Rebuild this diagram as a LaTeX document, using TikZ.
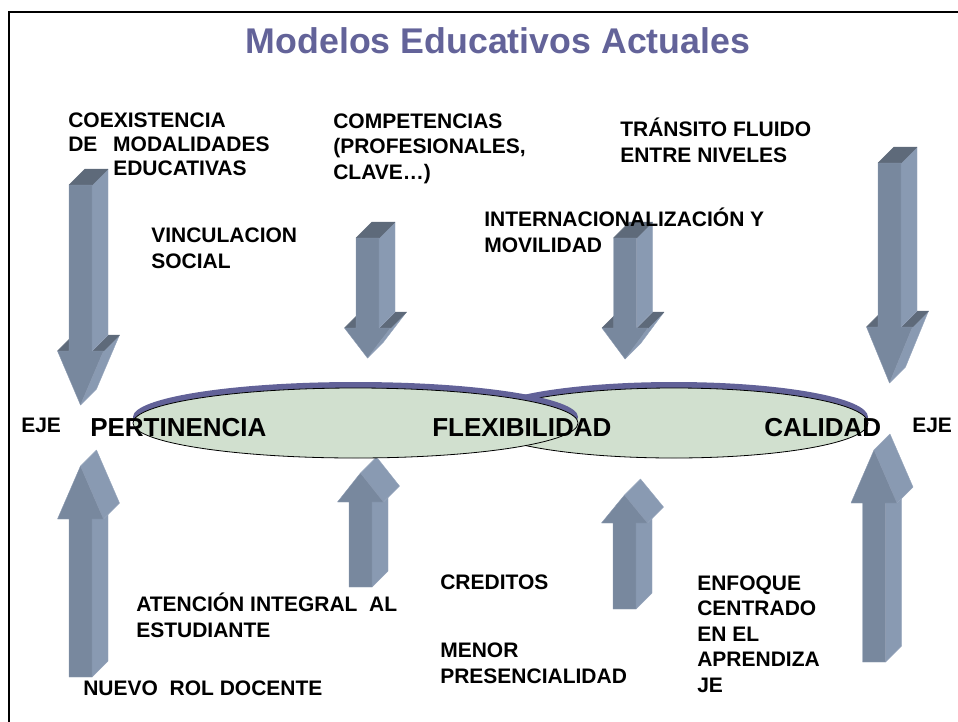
\documentclass[tikz,border=0pt]{standalone}
\usepackage{fontspec}
\setmainfont{Liberation Sans}
\usepackage{tikz}

\begin{document}
\begin{tikzpicture}[x=0.75pt,y=0.75pt,yscale=-1,xscale=1,
  arrfront/.style={fill={rgb, 255:red, 120; green, 136; blue, 158}, draw={rgb, 255:red, 138; green, 153; blue, 176}, line width=0.3pt, line join=round},
  arrside/.style={fill={rgb, 255:red, 137; green, 154; blue, 178}, draw={rgb, 255:red, 150; green, 165; blue, 188}, line width=0.3pt, line join=round},
  arrtop/.style={fill={rgb, 255:red, 94; green, 106; blue, 122}, draw={rgb, 255:red, 94; green, 106; blue, 122}, line width=0.3pt, line join=round},
  elshadow/.style={fill={rgb, 255:red, 98; green, 98; blue, 152}},
  elfill/.style={fill={rgb, 255:red, 209; green, 224; blue, 207}, draw=black, line width=0.6pt},
  lbl/.style={inner sep=0pt, anchor=base west, align=left, font=\bfseries\fontsize{15.75}{19.2}\selectfont},
  biglbl/.style={inner sep=0pt, anchor=base west, font=\bfseries\fontsize{19.5}{23}\selectfont}]
\useasboundingbox (0,0) rectangle (958,722);

%Straight Lines: frame
\draw [line width=1.5pt] (9,722) -- (9,12) -- (958,12) ;

%Shape: Down Arrows
\foreach \cx/\ty/\hy/\py in {80.5/185/351/405, 367.5/238/328/358, 625/238/328/359, 889.5/163/327/383}{
  \draw [arrside] (\cx+23,\hy) -- (\cx+39,\hy-16) -- (\cx+16,\py-16) -- (\cx,\py) -- cycle ;
  \draw [arrtop] (\cx-23,\hy) -- (\cx-11.5,\hy) -- (\cx+4.5,\hy-16) -- (\cx-7,\hy-16) -- cycle ;
  \draw [arrtop] (\cx+11.5,\hy) -- (\cx+23,\hy) -- (\cx+39,\hy-16) -- (\cx+27.5,\hy-16) -- cycle ;
  \draw [arrside] (\cx+11.5,\ty) -- (\cx+27.5,\ty-16) -- (\cx+27.5,\hy-16) -- (\cx+11.5,\hy) -- cycle ;
  \draw [arrtop] (\cx-11.5,\ty) -- (\cx+11.5,\ty) -- (\cx+27.5,\ty-16) -- (\cx+4.5,\ty-16) -- cycle ;
  \draw [arrfront] (\cx-11.5,\ty) -- (\cx+11.5,\ty) -- (\cx+11.5,\hy) -- (\cx+23,\hy) -- (\cx,\py) -- (\cx-23,\hy) -- (\cx-11.5,\hy) -- cycle ;
}

%Shape: Up Arrows
\foreach \cx/\by/\hy/\py in {80.5/677/519/466, 360.5/587/502/473, 624.5/609/523/495, 874/662/503/450}{
  \draw [arrside] (\cx+11.5,\by) -- (\cx+27.5,\by-16) -- (\cx+27.5,\hy-16) -- (\cx+11.5,\hy) -- cycle ;
  \draw [arrside] (\cx,\py) -- (\cx+16,\py-16) -- (\cx+39,\hy-16) -- (\cx+23,\hy) -- cycle ;
  \draw [arrfront] (\cx-11.5,\by) -- (\cx+11.5,\by) -- (\cx+11.5,\hy) -- (\cx+23,\hy) -- (\cx,\py) -- (\cx-23,\hy) -- (\cx-11.5,\hy) -- cycle ;
}

%Shape: Ellipse (right)
\fill [elshadow] (674,417) ellipse [x radius=194, y radius=35] ;
\draw [elfill] (674,423) ellipse [x radius=194, y radius=35] ;
%Shape: Ellipse (left)
\fill [elshadow] (355.5,417) ellipse [x radius=222.5, y radius=35] ;
\draw [elfill] (355.5,423) ellipse [x radius=222.5, y radius=35] ;

% Text Node (base = last line)
\node (title) [inner sep=0pt, anchor=base, text={rgb, 255:red, 99; green, 99; blue, 153}, font=\bfseries\fontsize{26.8}{32}\selectfont] at (498,53) {Modelos Educativos Actuales};
% Text Node
\node (coex) [lbl, font=\bfseries\fontsize{15.75}{18}\selectfont] at (68,175.5) {COEXISTENCIA\\\makebox[33.75pt][l]{DE}MODALIDADES\\\hspace*{33.75pt}EDUCATIVAS};
% Text Node
\node (compet) [lbl] at (333,179.5) {COMPETENCIAS\\(PROFESIONALES,\\CLAVE…)};
% Text Node
\node (transito) [lbl] at (620,162.5) {TRÁNSITO FLUIDO\\ENTRE NIVELES};
% Text Node
\node (vincul) [lbl] at (151,268.5) {VINCULACION\\SOCIAL};
% Text Node
\node (internac) [lbl] at (484,252.5) {INTERNACIONALIZACIÓN Y\\MOVILIDAD};
% Text Node
\node (ejeL) [lbl] at (21,432) {EJE};
% Text Node
\node (ejeR) [lbl] at (912,432) {EJE};
% Text Node
\node (pert) [biglbl] at (90,436) {PERTINENCIA};
% Text Node
\node (flex) [biglbl] at (432,436) {FLEXIBILIDAD};
% Text Node
\node (cal) [biglbl] at (764,436) {CALIDAD};
% Text Node
\node (atenc) [lbl] at (136,637.5) {ATENCIÓN INTEGRAL\ \ AL\\ESTUDIANTE};
% Text Node
\node (nuevo) [lbl] at (83,695) {NUEVO\ \ ROL DOCENTE};
% Text Node
\node (cred) [lbl] at (440,589) {CREDITOS};
% Text Node
\node (menor) [lbl] at (440,683.5) {MENOR\\PRESENCIALIDAD};
% Text Node
\node (enfoque) [lbl] at (697,692.5) {ENFOQUE\\CENTRADO\\EN EL\\APRENDIZA\\JE};

\end{tikzpicture}
\end{document}
